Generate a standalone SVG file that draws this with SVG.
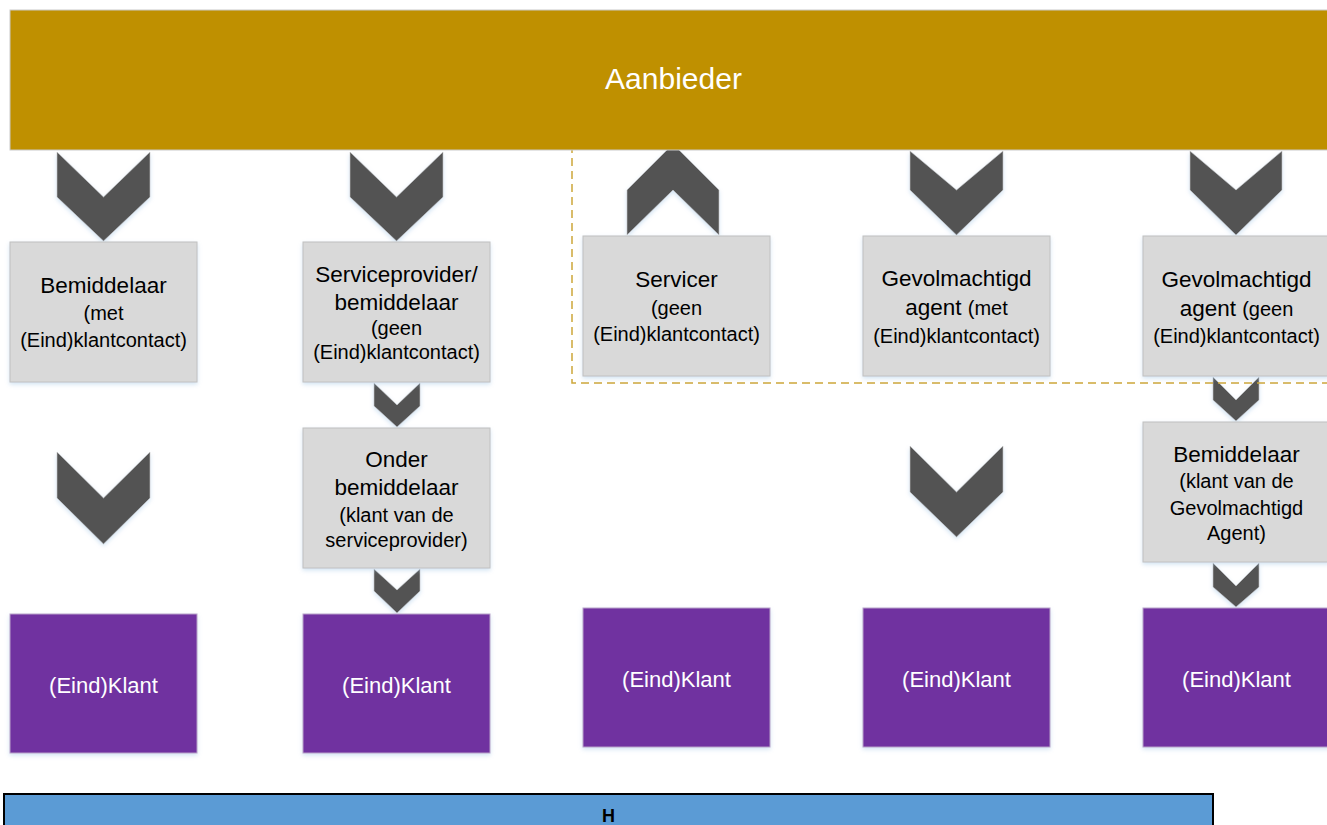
<svg xmlns="http://www.w3.org/2000/svg" width="1327" height="825" viewBox="0 0 1327 825">
<defs>
<filter id="sh" x="-10%" y="-10%" width="120%" height="130%">
<feDropShadow dx="0" dy="2" stdDeviation="2" flood-color="#9dc3e6" flood-opacity="0.45"/>
</filter>
<style>
.gray{fill:#D9D9D9;stroke:#C0C0C0;stroke-width:1;filter:url(#sh)}
.purple{fill:#7030A0;stroke:#B9A3C9;stroke-width:1;filter:url(#sh)}
.chev{fill:#525252;stroke:#C8C8C8;stroke-width:0.6;filter:url(#sh)}
.t{font-family:"Liberation Sans",Arial,sans-serif;text-anchor:middle;fill:#000}
.m{font-size:22.5px}
.s{font-size:20px}
.w{font-family:"Liberation Sans",Arial,sans-serif;text-anchor:middle;fill:#fff;font-size:22px}
</style>
</defs>
<rect width="1327" height="825" fill="#fff"/>

<g id="connectors">
<polygon class="chev" points="57,152 103.5,197 150,152 150,197 103.5,241 57,197"/>
<polygon class="chev" points="350,152 396.5,197 443,152 443,197 396.5,241 350,197"/>
<polygon class="chev" points="627,235 673,190 719,235 719,190 673,144 627,190"/>
<polygon class="chev" points="910,151 956.5,190 1003,151 1003,190 956.5,235 910,190"/>
<polygon class="chev" points="1190,151 1236,190 1282,151 1282,190 1236,235 1190,190"/>
<polygon class="chev" points="57,452 103.5,498 150,452 150,498 103.5,544 57,498"/>
<polygon class="chev" points="910,446 956.5,492 1003,446 1003,492 956.5,537 910,492"/>
<polygon class="chev" points="374,383 397,405 420,383 420,406 397,427 374,406"/>
<polygon class="chev" points="374,569 397,590 420,569 420,591 397,613 374,591"/>
<polygon class="chev" points="1213,377 1236,400 1259,377 1259,400 1236,421 1213,400"/>
<polygon class="chev" points="1213,563 1236,586 1259,563 1259,587 1236,607 1213,587"/>
</g>

<path id="group-border" d="M1330,383 H572 V150" fill="none" stroke="#CDA73A" stroke-width="1.5" stroke-dasharray="8,5"/>

<g id="aanbieder">
<rect x="10" y="10" width="1327" height="140" fill="#BF9000" stroke="#C9C9C9" stroke-width="1"/>
<text x="673.5" y="89" font-family="Liberation Sans,Arial,sans-serif" font-size="30" fill="#fff" text-anchor="middle">Aanbieder</text>
</g>

<g id="bemiddelaar-met">
<rect class="gray" x="10" y="242" width="187" height="140"/>
<text class="t m" x="103.5" y="293">Bemiddelaar</text>
<text class="t s" x="103.5" y="320">(met</text>
<text class="t s" x="103.5" y="347">(Eind)klantcontact)</text>
</g>

<g id="serviceprovider">
<rect class="gray" x="303" y="242" width="187" height="140"/>
<text class="t m" x="396.5" y="282">Serviceprovider/</text>
<text class="t m" x="396.5" y="310">bemiddelaar</text>
<text class="t s" x="396.5" y="335">(geen</text>
<text class="t s" x="396.5" y="359">(Eind)klantcontact)</text>
</g>

<g id="servicer">
<rect class="gray" x="583" y="236" width="187" height="140"/>
<text class="t m" x="676.5" y="287">Servicer</text>
<text class="t s" x="676.5" y="315">(geen</text>
<text class="t s" x="676.5" y="341">(Eind)klantcontact)</text>
</g>

<g id="gevolmachtigd-met">
<rect class="gray" x="863" y="236" width="187" height="140"/>
<text class="t m" x="956.5" y="286">Gevolmachtigd</text>
<text class="t m" x="956.5" y="315">agent <tspan class="s">(met</tspan></text>
<text class="t s" x="956.5" y="343">(Eind)klantcontact)</text>
</g>

<g id="gevolmachtigd-geen">
<rect class="gray" x="1143" y="236" width="187" height="140"/>
<text class="t m" x="1236.5" y="287">Gevolmachtigd</text>
<text class="t m" x="1236.5" y="316">agent <tspan class="s">(geen</tspan></text>
<text class="t s" x="1236.5" y="343">(Eind)klantcontact)</text>
</g>

<g id="onder-bemiddelaar">
<rect class="gray" x="303" y="428" width="187" height="140"/>
<text class="t m" x="396.5" y="467">Onder</text>
<text class="t m" x="396.5" y="495">bemiddelaar</text>
<text class="t s" x="396.5" y="522">(klant van de</text>
<text class="t s" x="396.5" y="547">serviceprovider)</text>
</g>

<g id="bemiddelaar-klant-agent">
<rect class="gray" x="1143" y="422" width="187" height="140"/>
<text class="t m" x="1236.5" y="462">Bemiddelaar</text>
<text class="t s" x="1236.5" y="488">(klant van de</text>
<text class="t s" x="1236.5" y="515">Gevolmachtigd</text>
<text class="t s" x="1236.5" y="540">Agent)</text>
</g>

<g id="klant-1">
<rect class="purple" x="10" y="614" width="187" height="139"/>
<text class="w" x="103.5" y="693">(Eind)Klant</text>
</g>
<g id="klant-2">
<rect class="purple" x="303" y="614" width="187" height="139"/>
<text class="w" x="396.5" y="693">(Eind)Klant</text>
</g>
<g id="klant-3">
<rect class="purple" x="583" y="608" width="187" height="139"/>
<text class="w" x="676.5" y="687">(Eind)Klant</text>
</g>
<g id="klant-4">
<rect class="purple" x="863" y="608" width="187" height="139"/>
<text class="w" x="956.5" y="687">(Eind)Klant</text>
</g>
<g id="klant-5">
<rect class="purple" x="1143" y="608" width="187" height="139"/>
<text class="w" x="1236.5" y="687">(Eind)Klant</text>
</g>

<g id="h-bar">
<rect x="4" y="794" width="1209" height="40" fill="#5B9BD5" stroke="#000" stroke-width="2"/>
<text x="608.5" y="822" font-family="Liberation Sans,Arial,sans-serif" font-size="18" font-weight="bold" fill="#000" text-anchor="middle">H</text>
</g>
</svg>
